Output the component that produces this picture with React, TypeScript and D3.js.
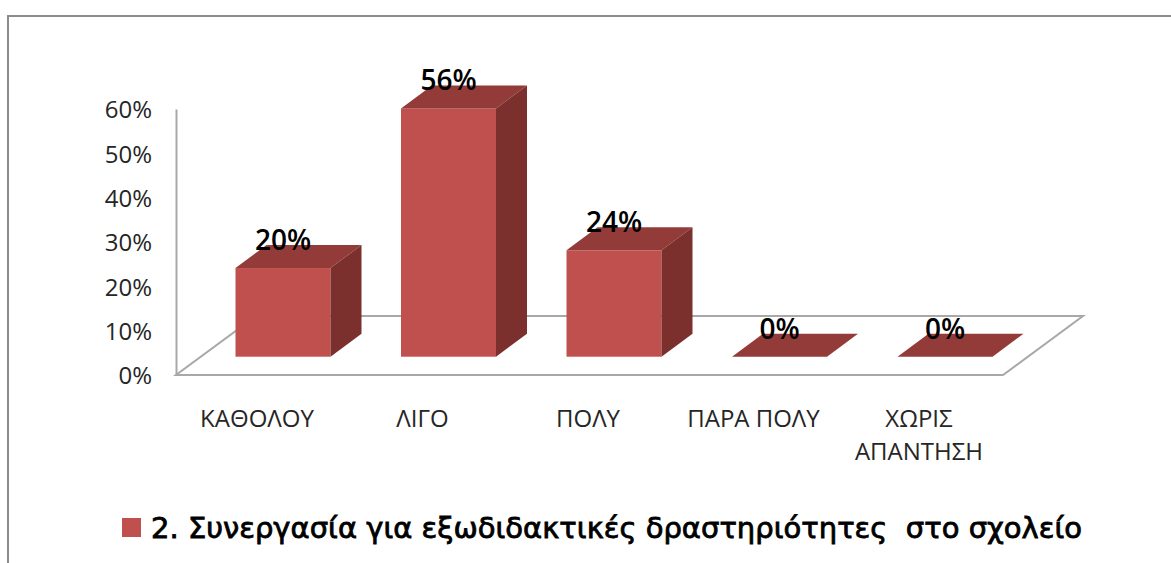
import * as d3 from "d3";
import React, { useRef, useEffect } from "react";

const categories = ["ΚΑΘΟΛΟΥ", "ΛΙΓΟ", "ΠΟΛΥ", "ΠΑΡΑ ΠΟΛΥ", "ΧΩΡΙΣ ΑΠΑΝΤΗΣΗ"];
const values = [20, 56, 24, 0, 0];
const yTicks = [0, 10, 20, 30, 40, 50, 60];
const legendLabel = "2. Συνεργασία για εξωδιδακτικές δραστηριότητες  στο σχολείο";

const mainWidth = 1171;
const mainHeight = 563;

const axisFont = "'Open Sans', sans-serif";
const legendFont = "'DejaVu Sans', sans-serif";

const front = "#c0504d";
const top = "#933b39";
const side = "#7b302e";
const axisGrey = "#a8a8a8";

// 3d offsets of the box
const depthX = 31;
const depthY = 23;
const barWidth = 95;
const floorLift = 18.3; // bars stand this far above the front floor edge

const yScale = d3.scaleLinear().domain([0, 60]).range([375, 109]);
const xScale = d3.scalePoint<string>().domain(categories).range([283, 945]);

function App() {
  const axisRef = useRef<SVGGElement>(null);

  useEffect(() => {
    const g = d3.select(axisRef.current);
    g.call(
      d3
        .axisLeft(yScale)
        .tickValues(yTicks)
        .tickSize(0)
        .tickPadding(24)
        .tickFormat((d) => `${d}%`) as any
    );
    g.select(".domain").attr("stroke", axisGrey).attr("stroke-width", 2);
    g.selectAll("text")
      .attr("font-family", axisFont)
      .attr("font-size", 24)
      .attr("y", 1)
      .attr("fill", "#262626");
  }, []);

  const baseY = yScale(0) - floorLift;

  return (
    <svg
      width={mainWidth}
      height={mainHeight}
      style={{ position: "absolute", left: 0, top: 0, background: "#fff" }}
    >
      {/* outer frame, cut off by the crop on the right and bottom */}
      <path d="M8,563V16H1171" fill="none" stroke="#8c8c8c" strokeWidth={2} />

      {/* floor */}
      <path
        d={`M176,375L1003,375L1083,316L256,316Z`}
        fill="none"
        stroke={axisGrey}
        strokeWidth={2}
      />
      <g ref={axisRef} transform="translate(176,0)" />

      {/* bars */}
      {categories.map((c, i) => {
        const x0 = xScale(c)! - barWidth / 2;
        const x1 = x0 + barWidth;
        const yTop = yScale(values[i]) - floorLift;
        return (
          <g key={c}>
            <rect x={x0} y={yTop} width={barWidth} height={baseY - yTop} fill={front} />
            <path
              d={`M${x0},${yTop}L${x0 + depthX},${yTop - depthY}L${x1 + depthX},${yTop - depthY}L${x1},${yTop}Z`}
              fill={top}
            />
            <path
              d={`M${x1},${yTop}L${x1 + depthX},${yTop - depthY}L${x1 + depthX},${baseY - depthY}L${x1},${baseY}Z`}
              fill={side}
            />
            <text
              x={xScale(c)}
              y={yTop - 18}
              textAnchor="middle"
              fontFamily={axisFont}
              fontSize={28}
              fontWeight={600}
              fill="#000"
            >
              {values[i]}%
            </text>
          </g>
        );
      })}

      {/* category labels, the long one wraps */}
      {categories.map((c) => {
        const lines = c === "ΧΩΡΙΣ ΑΠΑΝΤΗΣΗ" ? c.split(" ") : [c];
        return (
          <text
            key={c}
            textAnchor="middle"
            fontFamily={axisFont}
            fontSize={24}
            fill="#262626"
          >
            {lines.map((l, j) => (
              <tspan key={l} x={xScale(c)! - 26} y={427 + j * 33}>
                {l}
              </tspan>
            ))}
          </text>
        );
      })}

      {/* legend */}
      <rect x={122} y={518} width={19} height={19} fill={front} />
      <text
        x={151}
        y={538}
        fontFamily={legendFont}
        fontSize={28}
        stroke="#000"
        strokeWidth={0.8}
        fill="#000"
        textLength={931}
        lengthAdjust="spacingAndGlyphs"
        style={{ whiteSpace: "pre" }}
      >
        {legendLabel}
      </text>
    </svg>
  );
}

export default App;
